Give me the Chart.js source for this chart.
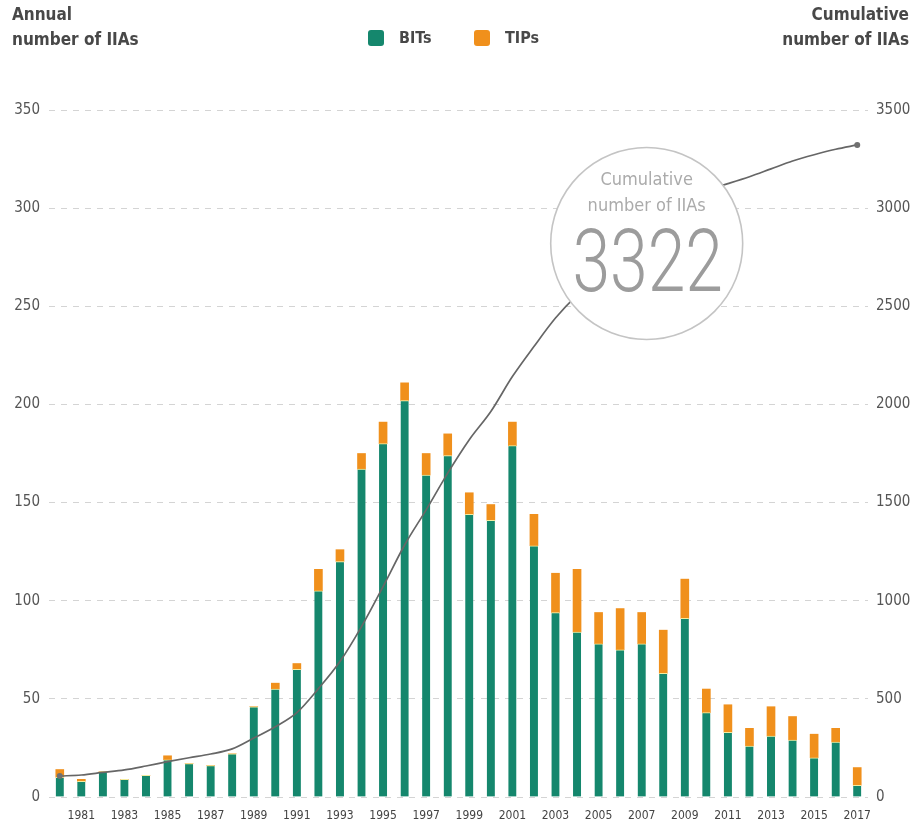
<!DOCTYPE html>
<html>
<head>
<meta charset="utf-8">
<script src="https://cdn.jsdelivr.net/npm/chart.js@4/dist/chart.umd.min.js"></script>
<style>
  html, body { margin: 0; padding: 0; background: #fff; }
  #wrap { width: 919px; height: 827px; position: relative; }
</style>
</head>
<body>
<div id="wrap"><canvas id="iiaChart"></canvas></div>
<script>
// Years on the x axis
const years = [];
for (let y = 1980; y <= 2017; y++) years.push(String(y));

// Annual BITs and TIPs
const bits = [10, 8, 13, 9, 11, 19, 17, 16, 22, 46, 55, 65, 105, 120, 167, 180, 202, 164, 174, 144,
              141, 179, 128, 94, 84, 78, 75, 78, 63, 91, 43, 33, 26, 31, 29, 20, 28, 6];
const tips = [4, 1, 0, 0, 0, 2, 0, 0, 0, 0, 3, 3, 11, 6, 8, 11, 9, 11, 11, 11,
              8, 12, 16, 20, 32, 16, 21, 16, 22, 20, 12, 14, 9, 15, 12, 12, 7, 9];

// Cumulative number of IIAs (right axis)
const cumulative = [107, 112, 125, 138, 158, 180, 200, 219, 245, 300, 358, 430, 552, 690, 868, 1072, 1284, 1463, 1650, 1820,
                    1964, 2142, 2295, 2440, 2557, 2651, 2747, 2841, 2926, 3037, 3092, 3125, 3160, 3200, 3240, 3272, 3300, 3322];

const leftTicks = [0, 50, 100, 150, 200, 250, 300, 350];
const rightTicks = [0, 500, 1000, 1500, 2000, 2500, 3000, 3500];

const GREEN = "#15876d";
const ORANGE = "#f0901c";
const FONT = "'DejaVu Sans Condensed', 'DejaVu Sans', sans-serif";

// header texts, legend and the big circle callout
const decorations = {
    id: "decorations",
    afterDatasetsDraw(chart) {
        const ctx = chart.ctx;
        const x = chart.scales.x;
        const y1 = chart.scales.y1;
        ctx.save();

        // callout circle
        const cx = x.getPixelForValue(27) + 5;
        const cy = y1.getPixelForValue(2820);
        const r = 96;
        ctx.beginPath();
        ctx.arc(cx, cy, r, 0, Math.PI * 2);
        ctx.fillStyle = "#fff";
        ctx.fill();
        ctx.lineWidth = 1.6;
        ctx.strokeStyle = "#c4c4c4";
        ctx.stroke();

        ctx.fillStyle = "#ababab";
        ctx.textAlign = "center";
        ctx.textBaseline = "middle";
        ctx.font = "18px " + FONT;
        ctx.fillText("Cumulative", cx, cy - 63);
        ctx.fillText("number of IIAs", cx, cy - 37);

        // big number, narrowed
        ctx.save();
        ctx.translate(cx + 1, cy + 48);
        ctx.scale(0.78, 1);
        ctx.fillStyle = "#9c9c9c";
        ctx.textBaseline = "alphabetic";
        ctx.font = "300 87px Roboto, sans-serif";
        ctx.fillText("3322", 0, 0);
        ctx.restore();

        // axis headers
        ctx.fillStyle = "#484848";
        ctx.font = "bold 17px " + FONT;
        ctx.textBaseline = "middle";
        ctx.textAlign = "left";
        ctx.fillText("Annual", 12, 16);
        ctx.fillText("number of IIAs", 12, 41);
        ctx.textAlign = "right";
        ctx.fillText("Cumulative", 909, 16);
        ctx.fillText("number of IIAs", 909, 41);

        // legend
        const items = [["BITs", GREEN, 368], ["TIPs", ORANGE, 474]];
        items.forEach(([label, color, lx]) => {
            ctx.fillStyle = color;
            ctx.beginPath();
            ctx.roundRect(lx, 30, 16, 16, 3);
            ctx.fill();
            ctx.fillStyle = "#484848";
            ctx.textAlign = "left";
            ctx.font = "bold 16px " + FONT;
            ctx.fillText(label, lx + 31, 39);
        });
        ctx.restore();
    }
};

const ctx = document.getElementById("iiaChart").getContext("2d");

const iiaChart = new Chart(ctx, {
    type: "bar",
    data: {
        labels: years,
        datasets: [
            {
                type: "line",
                label: "Cumulative",
                data: cumulative,
                yAxisID: "y1",
                borderColor: "#666",
                borderWidth: 1.7,
                cubicInterpolationMode: "monotone",
                pointRadius: years.map((_, i) => (i === 0 || i === years.length - 1 ? 3 : 0)),
                pointBackgroundColor: "#707070",
                pointBorderWidth: 0,
                order: 0
            },
            {
                label: "BITs",
                data: bits,
                yAxisID: "y",
                backgroundColor: GREEN,
                borderColor: "#f3eda0",
                borderWidth: { top: 1, left: 0, right: 0, bottom: 0 },
                borderSkipped: false,
                barThickness: 8,
                stack: "iia",
                order: 1
            },
            {
                label: "TIPs",
                data: tips,
                yAxisID: "y",
                backgroundColor: ORANGE,
                borderWidth: 0,
                barThickness: 8,
                stack: "iia",
                order: 1
            }
        ]
    },
    options: {
        responsive: true,
        maintainAspectRatio: false,
        animation: false,
        layout: { padding: { top: 110, left: 5, right: 5, bottom: 7 } },
        scales: {
            x: {
                stacked: true,
                afterFit(scale) { scale.height = 23; },
                grid: { display: false, drawTicks: false },
                border: { display: false },
                ticks: {
                    autoSkip: false,
                    maxRotation: 0,
                    padding: 12,
                    color: "#444",
                    font: { family: FONT, size: 12 },
                    callback: function (val, i) {
                        return i % 2 === 1 ? years[i] : "";
                    }
                }
            },
            y: {
                stacked: true,
                position: "left",
                min: 0,
                max: 350,
                afterFit(scale) { scale.width = 44; },
                afterBuildTicks(scale) { scale.ticks = leftTicks.map(v => ({ value: v })); },
                grid: {
                    color: "#d4d4d4",
                    drawTicks: false,
                    lineWidth: 1
                },
                border: { display: false, dash: [6, 6] },
                ticks: {
                    padding: 9,
                    color: "#555",
                    font: { family: FONT, size: 15 }
                }
            },
            y1: {
                position: "right",
                min: 0,
                max: 3500,
                afterFit(scale) { scale.width = 46; },
                afterBuildTicks(scale) { scale.ticks = rightTicks.map(v => ({ value: v })); },
                grid: { display: false, drawTicks: false },
                border: { display: false },
                ticks: {
                    padding: 8,
                    color: "#555",
                    font: { family: FONT, size: 15 },
                    callback: v => String(v)
                }
            }
        },
        plugins: {
            legend: { display: false },
            tooltip: { enabled: false }
        }
    },
    plugins: [decorations]
});
</script>
</body>
</html>
